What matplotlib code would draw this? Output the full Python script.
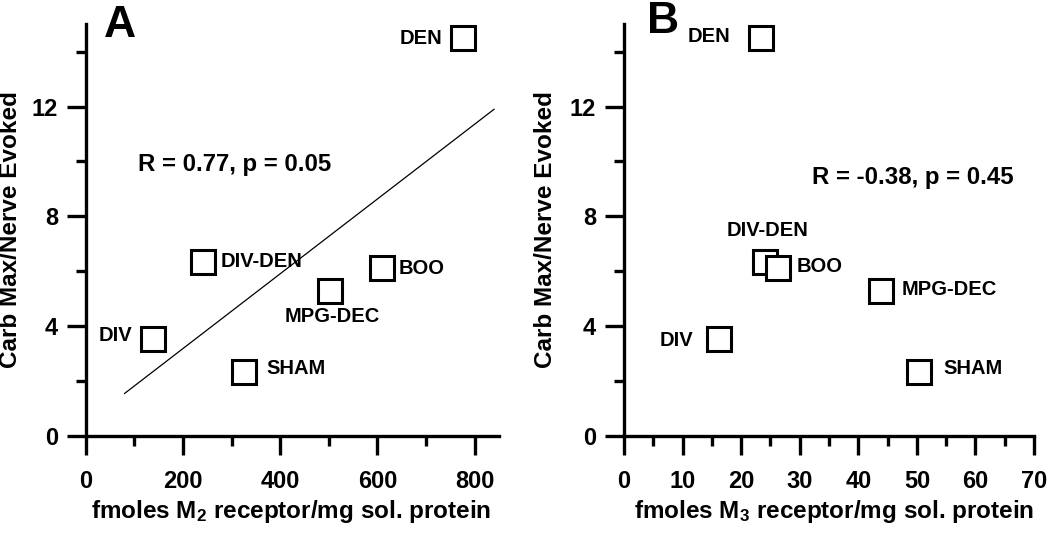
import numpy as np
import matplotlib
matplotlib.use("Agg")
import matplotlib.pyplot as plt
from matplotlib.ticker import MultipleLocator

plt.rcParams['font.family'] = ['Liberation Sans', 'DejaVu Sans']
plt.rcParams['font.weight'] = 'bold'
plt.rcParams['mathtext.fontset'] = 'custom'
plt.rcParams['mathtext.rm'] = 'Liberation Sans:bold'
plt.rcParams['mathtext.default'] = 'rm'

# DATA

groups = ['DEN', 'DIV-DEN', 'BOO', 'MPG-DEC', 'DIV', 'SHAM']
carb_ratio = [14.5, 6.34, 6.1, 5.27, 3.54, 2.33]
m2_receptor = [777, 241, 610, 502, 139, 326]
m3_receptor = [23.4, 24.1, 26.3, 43.9, 16.25, 50.4]

stats_a = "R = 0.77, p = 0.05"
stats_b = "R = -0.38, p = 0.45"
fit_range_a = [80, 840]

# label placement (offset pixels from marker, ha, va)
lab_a = {
    'DEN': (-21, 0, 'right', 'center'),
    'DIV-DEN': (18, 0, 'left', 'center'),
    'BOO': (16, 0, 'left', 'center'),
    'MPG-DEC': (3, -25, 'center', 'center'),
    'DIV': (-21, 3, 'right', 'center'),
    'SHAM': (22, 3, 'left', 'center'),
}
lab_b = {
    'DEN': (-31, 2, 'right', 'center'),
    'DIV-DEN': (2, 31, 'center', 'center'),
    'BOO': (19, 2, 'left', 'center'),
    'MPG-DEC': (20, 2, 'left', 'center'),
    'DIV': (-26, -2, 'right', 'center'),
    'SHAM': (24, 3, 'left', 'center'),
}

fig = plt.figure(figsize=(10.5, 5.35), dpi=100)
ax_a = fig.add_axes([0.0816, 0.1856, 0.3935, 0.7688])
ax_b = fig.add_axes([0.5943, 0.1856, 0.3905, 0.7688])


def style_axis(ax, xmax, xmajor, xminor):
    ax.set_xlim(0, xmax)
    ax.set_ylim(0, 15)
    for s in ['top', 'right']:
        ax.spines[s].set_visible(False)
    for s in ['left', 'bottom']:
        ax.spines[s].set_linewidth(2.4)
    ax.xaxis.set_major_locator(MultipleLocator(xmajor))
    ax.xaxis.set_minor_locator(MultipleLocator(xminor))
    ax.yaxis.set_major_locator(MultipleLocator(4))
    ax.yaxis.set_minor_locator(MultipleLocator(2))
    ax.tick_params(which='major', direction='out', length=14, width=2.4,
                   labelsize=17, pad=6)
    ax.tick_params(axis='x', which='major', pad=11)
    ax.tick_params(which='minor', direction='out', length=7.5, width=2.4)
    for lab in ax.get_xticklabels() + ax.get_yticklabels():
        lab.set_fontweight('bold')
    ax.set_ylabel("Carb Max/Nerve Evoked", fontsize=17.5, fontweight='bold')


def draw_points(ax, xs, labels):
    ax.plot(xs, carb_ratio, linestyle='none', marker='s', markersize=17.5,
            markerfacecolor='white', markeredgecolor='black',
            markeredgewidth=2.2, clip_on=False, zorder=3)
    for name, x, y in zip(groups, xs, carb_ratio):
        dx, dy, ha, va = labels[name]
        ax.annotate(name, (x, y), xytext=(dx, dy), textcoords='offset pixels',
                    ha=ha, va=va, fontsize=14.5, fontweight='bold')


# PANEL A
style_axis(ax_a, 850, 200, 100)
draw_points(ax_a, m2_receptor, lab_a)
slope, icpt = np.polyfit(m2_receptor, carb_ratio, 1)
fx = np.array(fit_range_a)
ax_a.plot(fx, slope * fx + icpt, color='black', linewidth=0.9, zorder=2)
ax_a.text(107, 9.9, stats_a, fontsize=17.3, fontweight='bold', va='center')
ax_a.set_xlabel(r"fmoles M$_2$ receptor/mg sol. protein", fontsize=17.5,
                fontweight='bold')
ax_a.xaxis.set_label_coords(0.497, -0.152)
ax_a.yaxis.set_label_coords(-0.155, 0.5)
ax_a.text(0.045, 0.969, "A", transform=ax_a.transAxes, fontsize=32,
          fontweight='bold', va='baseline')

# PANEL B
style_axis(ax_b, 70, 10, 5)
draw_points(ax_b, m3_receptor, lab_b)
ax_b.text(32.1, 9.4, stats_b, fontsize=17.3, fontweight='bold', va='center')
ax_b.set_xlabel(r"fmoles M$_3$ receptor/mg sol. protein", fontsize=17.5,
                fontweight='bold')
ax_b.xaxis.set_label_coords(0.512, -0.152)
ax_b.yaxis.set_label_coords(-0.163, 0.5)
ax_b.text(0.055, 0.979, "B", transform=ax_b.transAxes, fontsize=32,
          fontweight='bold', va='baseline')

fig.savefig("out.png", dpi=100)
